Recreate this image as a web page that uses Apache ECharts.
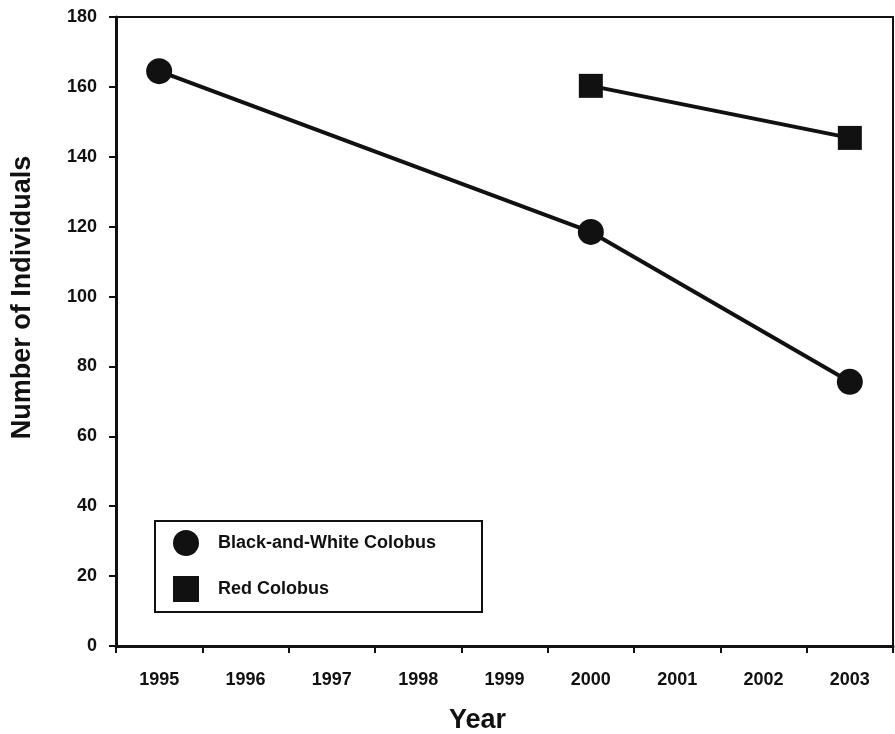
<!DOCTYPE html>
<html>
<head>
<meta charset="utf-8">
<script src="https://cdn.jsdelivr.net/npm/echarts@6/dist/echarts.min.js"></script>
<style>
html,body{margin:0;padding:0;background:#fff;}
#chart{width:895px;height:734px;}
</style>
</head>
<body>
<div id="chart"></div>
<script>
var years = ['1995','1996','1997','1998','1999','2000','2001','2002','2003'];
var blackWhite = [164.5, null, null, null, null, 118.5, null, null, 75.6];
var redColobus = [null, null, null, null, null, 160.3, null, null, 145.4];
var seriesNames = ['Black-and-White Colobus', 'Red Colobus'];

var FONT = '"Liberation Sans", Arial, sans-serif';
var INK = '#111';

var chart = echarts.init(document.getElementById('chart'));
chart.setOption({
  animation: false,
  backgroundColor: '#fff',
  textStyle: { fontFamily: FONT, color: INK },
  grid: {
    left: 116, right: 2, top: 17, bottom: 88,
    outerBoundsMode: 'none',
    containLabel: false,
    show: true, borderColor: INK, borderWidth: 2, backgroundColor: 'transparent'
  },
  legend: {
    orient: 'vertical',
    left: 155, top: 521,
    padding: [9, 46, 10, 18],
    borderColor: INK, borderWidth: 2,
    itemWidth: 26, itemHeight: 26, itemGap: 20,
    textStyle: { fontFamily: FONT, fontWeight: 'bold', fontSize: 18, color: INK, padding: [0, 0, 0, 14] },
    data: [
      { name: seriesNames[0], icon: 'circle' },
      { name: seriesNames[1], icon: 'rect' }
    ]
  },
  xAxis: {
    type: 'category',
    data: years,
    boundaryGap: true,
    name: 'Year',
    nameLocation: 'middle',
    nameGap: 61,
    nameTextStyle: { fontFamily: FONT, fontWeight: 'bold', fontSize: 27, color: INK, padding: [0, 54, 0, 0] },
    axisLine: { lineStyle: { color: INK, width: 3 } },
    axisTick: { show: true, length: 7, lineStyle: { color: INK, width: 2 } },
    axisLabel: { fontFamily: FONT, fontWeight: 'bold', fontSize: 18, color: INK, margin: 25 },
    splitLine: { show: false }
  },
  yAxis: {
    type: 'value',
    min: 0, max: 180, interval: 20,
    name: 'Number of Individuals',
    nameLocation: 'middle',
    nameGap: 80,
    nameRotate: 90,
    nameTextStyle: { fontFamily: FONT, fontWeight: 'bold', fontSize: 27, color: INK, padding: [0, 0, 0, 68] },
    axisLine: { show: true, lineStyle: { color: INK, width: 3 } },
    axisTick: { show: true, length: 7, lineStyle: { color: INK, width: 2 } },
    axisLabel: { fontFamily: FONT, fontWeight: 'bold', fontSize: 18, color: INK, margin: 19 },
    splitLine: { show: false }
  },
  series: [
    {
      name: seriesNames[0],
      type: 'line',
      data: blackWhite,
      connectNulls: true,
      symbol: 'circle',
      symbolSize: 26,
      lineStyle: { color: INK, width: 4 },
      itemStyle: { color: INK },
      z: 3
    },
    {
      name: seriesNames[1],
      type: 'line',
      data: redColobus,
      connectNulls: true,
      symbol: 'rect',
      symbolSize: 24,
      lineStyle: { color: INK, width: 4 },
      itemStyle: { color: INK },
      z: 3
    }
  ]
});
</script>
</body>
</html>
